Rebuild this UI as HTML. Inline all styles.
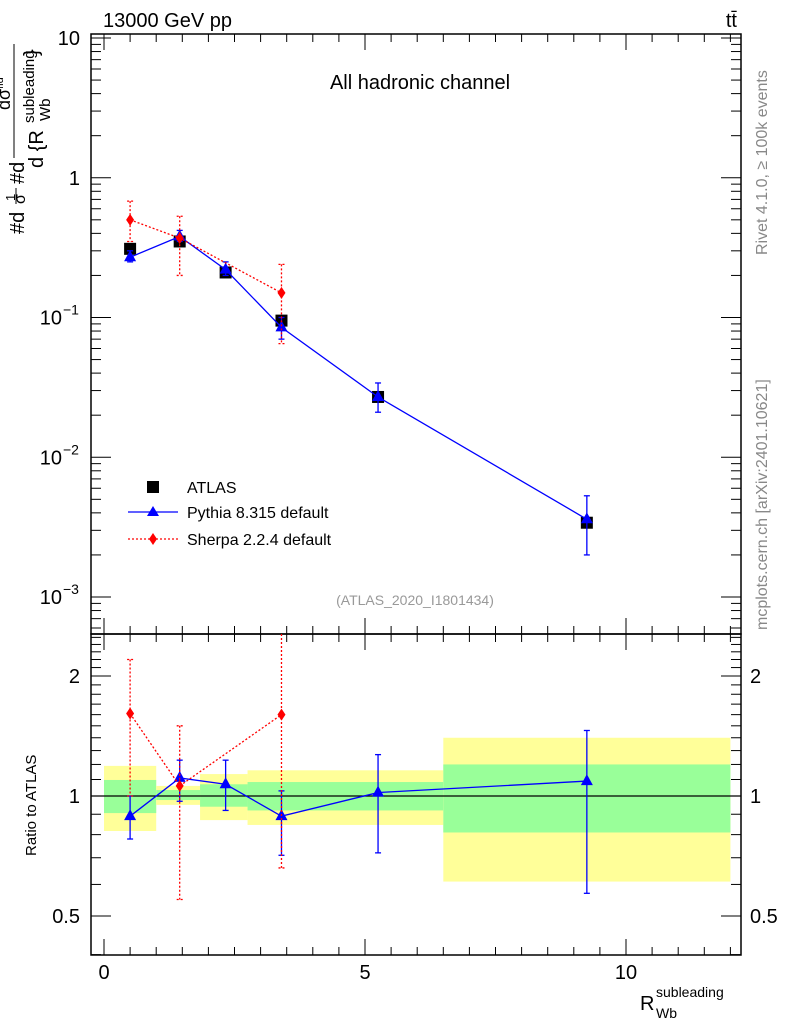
<!DOCTYPE html>
<html><head><meta charset="utf-8"><style>
body{margin:0;background:#fff;}
svg{display:block;font-family:"Liberation Sans",sans-serif;}
</style></head><body>
<svg id="chart" width="786" height="1024" viewBox="0 0 786 1024">
<g id="bands"></g>
<g id="grid"></g>
<g id="series"></g>
<text x="103" y="27" font-size="20">13000 GeV pp</text>
<text x="737" y="27" font-size="20" text-anchor="end">tt̄</text>
<text x="420" y="89" font-size="20" text-anchor="middle">All hadronic channel</text>
<text x="415" y="605" font-size="14" fill="#999" text-anchor="middle">(ATLAS_2020_I1801434)</text>
<text transform="translate(767,255) rotate(-90)" font-size="16" fill="#888">Rivet 4.1.0, ≥ 100k events</text>
<text transform="translate(767,630) rotate(-90)" font-size="16" fill="#888">mcplots.cern.ch [arXiv:2401.10621]</text>
<g>
<text transform="translate(24,234) rotate(-90)" font-size="20">#d</text>
<text transform="translate(15,201) rotate(-90)" font-size="13">1</text>
<line x1="16" y1="188" x2="16" y2="204" stroke="#000" stroke-width="1"/>
<text transform="translate(25,204) rotate(-90)" font-size="16">σ</text>
<text transform="translate(24,184) rotate(-90)" font-size="20">#d</text>
<line x1="14" y1="158" x2="14" y2="44" stroke="#000" stroke-width="1"/>
<text transform="translate(10,110) rotate(-90)" font-size="18">dσ<tspan font-size="11" dy="-7">fid</tspan></text>
<text transform="translate(43,168) rotate(-90)" font-size="20">d {R</text>
<text transform="translate(34,123) rotate(-90)" font-size="15">subleading</text>
<text transform="translate(50,121) rotate(-90)" font-size="15">Wb</text>
<text transform="translate(38,56) rotate(-90)" font-size="20">}</text>
</g>
<text transform="translate(36,856) rotate(-90)" font-size="15">Ratio to ATLAS</text>
<g>
<text x="640" y="1010" font-size="20">R</text>
<text x="656" y="997" font-size="14">subleading</text>
<text x="656" y="1018" font-size="14">Wb</text>
</g>
<g font-size="16">
<rect x="147" y="481" width="12" height="12" fill="#000"/>
<text x="187" y="493">ATLAS</text>
<line x1="128" y1="512" x2="178" y2="512" stroke="#00f" stroke-width="1.3"/>
<polygon points="153,506 159,516 147,516" fill="#00f"/>
<text x="187" y="518">Pythia 8.315 default</text>
<line x1="128" y1="539" x2="178" y2="539" stroke="red" stroke-width="1.3" stroke-dasharray="2,2"/>
<polygon points="153,533 157,539 153,545 149,539" fill="red"/>
<text x="187" y="545">Sherpa 2.2.4 default</text>
</g>
</svg>
<script>
const xs=[0.5,1.45,2.33,3.4,5.25,9.25];
const atlas=[0.31,0.35,0.21,0.095,0.027,0.0034];
const pythia=[0.27,0.38,0.22,0.085,0.027,0.0036];
const pythiaLo=[0.25,0.35,0.20,0.07,0.021,0.002];
const pythiaHi=[0.30,0.42,0.25,0.10,0.034,0.0053];
const sherpaX=[0.5,1.45,3.4];
const sherpa=[0.50,0.37,0.15];
const sherpaLo=[0.35,0.20,0.065];
const sherpaHi=[0.68,0.53,0.24];
const rPythia=[0.89,1.11,1.07,0.89,1.02,1.09];
const rPythiaLo=[0.78,0.97,0.92,0.71,0.72,0.57];
const rPythiaHi=[1.0,1.23,1.23,1.03,1.27,1.46];
const rSherpa=[1.61,1.06,1.6];
const rSherpaLo=[1.0,0.55,0.66];
const rSherpaHi=[2.2,1.5,3.0];
const binEdges=[0,1,1.84,2.75,6.5,12.0];
const yelLo=[0.817,0.95,0.87,0.846,0.61];
const yelHi=[1.19,1.06,1.135,1.16,1.4];
const grnLo=[0.906,0.977,0.94,0.92,0.81];
const grnHi=[1.097,1.035,1.07,1.084,1.2];

const NS='http://www.w3.org/2000/svg';
const X=v=>104+v*52.2;
const Y=v=>38+(1-Math.log10(v))*139.75;
const R=v=>796-Math.log10(v)*398.6;
const L=91,RT=741,T=34,MID=634,B=955;
function mk(tag,attrs,parent){const e=document.createElementNS(NS,tag);for(const k in attrs)e.setAttribute(k,attrs[k]);document.getElementById(parent).appendChild(e);return e;}
for(let i=0;i<yelLo.length;i++){
 const y=mk('rect',{x:X(binEdges[i]),width:X(binEdges[i+1])-X(binEdges[i]),y:R(yelHi[i]),height:R(yelLo[i])-R(yelHi[i]),fill:'#ffff99'},'bands');
 
 
 const g=mk('rect',{x:X(binEdges[i]),width:X(binEdges[i+1])-X(binEdges[i]),y:R(grnHi[i]),height:R(grnLo[i])-R(grnHi[i]),fill:'#99ff99'},'bands');
 
 
}
mk('rect',{x:L,y:T,width:RT-L,height:MID-T,fill:'none',stroke:'#000','stroke-width':1.5},'grid');
mk('rect',{x:L,y:MID,width:RT-L,height:B-MID,fill:'none',stroke:'#000','stroke-width':1.5},'grid');
mk('line',{x1:L,x2:RT,y1:R(1),y2:R(1),stroke:'#000','stroke-width':1.2},'grid');
for(let v=0;v<=12;v+=0.5){const maj=v%5===0;const len=maj?16:8;
 for(const [y0,d] of [[T,1],[MID,-1],[MID,1],[B,-1]]) mk('line',{x1:X(v),x2:X(v),y1:y0,y2:y0+d*len,stroke:'#000'},'grid');}
[0,5,10].forEach(v=>{const t=mk('text',{x:X(v),y:979,'font-size':20,'text-anchor':'middle'},'grid');t.textContent=v;});
for(let e=-4;e<=1;e++)for(let m=1;m<10;m++){const v=m*Math.pow(10,e);const y=Y(v);if(y<T||y>MID)continue;const len=m===1?20:10;
 mk('line',{x1:L,x2:L+len,y1:y,y2:y,stroke:'#000'},'grid');mk('line',{x1:RT,x2:RT-len,y1:y,y2:y,stroke:'#000'},'grid');}
[[10,'10'],[1,'1']].forEach(([v,s])=>{const t=mk('text',{x:80,y:Y(v)+7,'font-size':20,'text-anchor':'end'},'grid');t.textContent=s;});
[[0.1,'−1'],[0.01,'−2'],[0.001,'−3']].forEach(([v,s])=>{const t=mk('text',{x:62,y:Y(v)+7,'font-size':20,'text-anchor':'end'},'grid');t.textContent='10';const u=mk('text',{x:63,y:Y(v)-3,'font-size':14},'grid');u.textContent=s;});
for(const v of [0.4,0.5,0.6,0.7,0.8,0.9,1,1.1,1.2,1.3,1.4,1.5,1.6,1.7,1.8,1.9,2,2.1,2.2,2.3,2.4,2.5]){const y=R(v);if(y<MID||y>B)continue;const len=(v===0.5||v===1||v===2)?20:10;
 mk('line',{x1:L,x2:L+len,y1:y,y2:y,stroke:'#000'},'grid');mk('line',{x1:RT,x2:RT-len,y1:y,y2:y,stroke:'#000'},'grid');}
[[0.5,'0.5'],[1,'1'],[2,'2']].forEach(([v,s])=>{let t=mk('text',{x:80,y:R(v)+7,'font-size':20,'text-anchor':'end'},'grid');t.textContent=s;t=mk('text',{x:750,y:R(v)+7,'font-size':20},'grid');t.textContent=s;});
function line(xa,ya,f,col,dash){mk('polyline',{points:xa.map((x,i)=>X(x)+','+f(ya[i])).join(' '),fill:'none',stroke:col,'stroke-width':1.3,'stroke-dasharray':dash||'none'},'series');}
function err(x,lo,hi,f,col,dash){mk('line',{x1:X(x),x2:X(x),y1:f===R?Math.max(MID,f(hi)):f(hi),y2:f(lo),stroke:col,'stroke-width':1.3,'stroke-dasharray':dash||'none'},'series');
 [f(hi),f(lo)].forEach(y=>{if(f===R&&y<MID)return;mk('line',{x1:X(x)-3,x2:X(x)+3,y1:y,y2:y,stroke:col,'stroke-width':1.3,'stroke-dasharray':dash||'none'},'series');});}
function tri(x,y){const p=mk('polygon',{points:`${x},${y-7} ${x+6},${y+4} ${x-6},${y+4}`,fill:'#00f'},'series');}
function dia(x,y){const p=mk('polygon',{points:`${x},${y-6} ${x+4},${y} ${x},${y+6} ${x-4},${y}`,fill:'red'},'series');}
xs.forEach((x,i)=>{const r=mk('rect',{x:X(x)-6,y:Y(atlas[i])-6,width:12,height:12,fill:'#000'},'series');});
line(xs,pythia,Y,'#00f');
xs.forEach((x,i)=>{err(x,pythiaLo[i],pythiaHi[i],Y,'#00f');tri(X(x),Y(pythia[i]));});
line(sherpaX,sherpa,Y,'red','2,2');
sherpaX.forEach((x,i)=>{err(x,sherpaLo[i],sherpaHi[i],Y,'red','2,2');dia(X(x),Y(sherpa[i]));});
line(xs,rPythia,R,'#00f');
xs.forEach((x,i)=>{err(x,rPythiaLo[i],rPythiaHi[i],R,'#00f');tri(X(x),R(rPythia[i]));});
line(sherpaX,rSherpa,R,'red','2,2');
sherpaX.forEach((x,i)=>{err(x,rSherpaLo[i],rSherpaHi[i],R,'red','2,2');dia(X(x),R(rSherpa[i]));});
</script>
</body></html>
